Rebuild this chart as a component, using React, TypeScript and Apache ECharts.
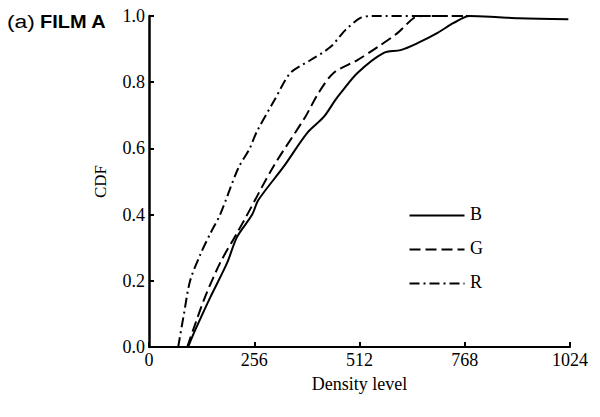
import React, { useEffect, useRef } from "react";
import * as echarts from "echarts";

const xTicks = [0, 256, 512, 768, 1024];
const yTicks = [0, 0.2, 0.4, 0.6, 0.8, 1.0];

const bX = [95, 112, 149, 190, 214, 251, 266, 327, 385, 425, 453, 466, 507, 570, 612, 653, 702, 741, 780, 830, 900, 1020];
const bY = [0, 0.05, 0.15, 0.254, 0.332, 0.4, 0.444, 0.544, 0.647, 0.695, 0.746, 0.767, 0.828, 0.888, 0.897, 0.918, 0.949, 0.979, 1.0, 0.998, 0.993, 0.99];

const gX = [93, 107, 136, 173, 214, 239, 302, 380, 412, 449, 507, 556, 605, 644, 665, 780];
const gY = [0, 0.05, 0.15, 0.254, 0.344, 0.4, 0.544, 0.695, 0.767, 0.828, 0.867, 0.906, 0.949, 0.994, 1.0, 1.0];

const rX = [71, 85, 100, 125, 150, 173, 217, 245, 262, 307, 344, 393, 441, 478, 514, 540, 780];
const rY = [0, 0.1, 0.2, 0.28, 0.345, 0.4, 0.54, 0.6, 0.65, 0.75, 0.828, 0.867, 0.906, 0.958, 0.994, 1.0, 1.0];

const seriesNames = ["B", "G", "R"];

const zip = (xs: number[], ys: number[]) => xs.map((x, i) => [x, ys[i]]);

const SERIF = "'Liberation Serif', 'DejaVu Serif', serif";
const SANS = "Arial, 'Liberation Sans', sans-serif";

export default function App() {
  const ref = useRef<HTMLDivElement>(null);
  useEffect(() => {
    if (!ref.current) return;
    const chart = echarts.init(ref.current, null, { renderer: "svg" });
    const dashG = [11, 5];
    const dashR = [10, 4, 2, 4];
    const legendY = [214, 248, 282];
    const dashes: any[] = ["solid", dashG, dashR];
    const graphics: any[] = [];
    seriesNames.forEach((n, i) => {
      graphics.push({
        type: "line",
        left: 407,
        top: legendY[i] - 1,
        shape: { x1: 0, y1: 0, x2: 55, y2: 0 },
        style: { stroke: "#000", lineWidth: 2, lineDash: i === 0 ? null : dashes[i] },
      });
      graphics.push({
        type: "text",
        left: 470,
        top: legendY[i] - 9,
        style: { text: n, fill: "#000", font: `18px ${SERIF}` },
      });
    });
    graphics.push({
      type: "text",
      x: 7,
      y: 12,
      scaleX: 1.2,
      style: { text: "(a)", fill: "#000", font: `19px ${SANS}` },
    });
    graphics.push({
      type: "text",
      x: 40,
      y: 12,
      scaleX: 1.05,
      style: { text: "FILM A", fill: "#000", font: `bold 19px ${SANS}` },
    });
    const mk = (i: number, xs: number[], ys: number[]) => ({
      name: seriesNames[i],
      type: "line",
      data: zip(xs, ys),
      smooth: 0.3,
      showSymbol: false,
      lineStyle: { color: "#000", width: 2, type: dashes[i] },
    });
    chart.setOption({
      animation: false,
      backgroundColor: "#fff",
      grid: { left: 149, top: 16, width: 421, height: 331 },
      xAxis: {
        type: "value",
        min: 0,
        max: 1024,
        interval: 256,
        name: "Density level",
        nameLocation: "middle",
        nameGap: 28,
        nameTextStyle: { color: "#000", fontFamily: SERIF, fontSize: 18 },
        axisLine: { lineStyle: { color: "#000", width: 2 } },
        axisTick: { inside: true, length: 5, lineStyle: { color: "#000", width: 2 } },
        axisLabel: { color: "#000", fontFamily: SERIF, fontSize: 18, margin: 4, formatter: (v: number) => String(v) },
        splitLine: { show: false },
      },
      yAxis: {
        type: "value",
        min: 0,
        max: 1,
        interval: 0.2,
        name: "CDF",
        nameLocation: "middle",
        nameGap: 40,
        nameRotate: 90,
        nameTextStyle: { color: "#000", fontFamily: SERIF, fontSize: 17 },
        axisLine: { show: true, lineStyle: { color: "#000", width: 2.5 } },
        axisTick: { show: true, inside: true, length: 5, lineStyle: { color: "#000", width: 2 } },
        axisLabel: {
          color: "#000",
          fontFamily: SERIF,
          fontSize: 18,
          margin: 4,
          formatter: (v: number) => v.toFixed(1),
        },
        splitLine: { show: false },
      },
      series: [mk(0, bX, bY), mk(1, gX, gY), mk(2, rX, rY)],
      graphic: graphics,
    });
    return () => chart.dispose();
  }, []);
  return <div ref={ref} style={{ position: "fixed", left: 0, top: 0, width: 600, height: 417 }} />;
}
